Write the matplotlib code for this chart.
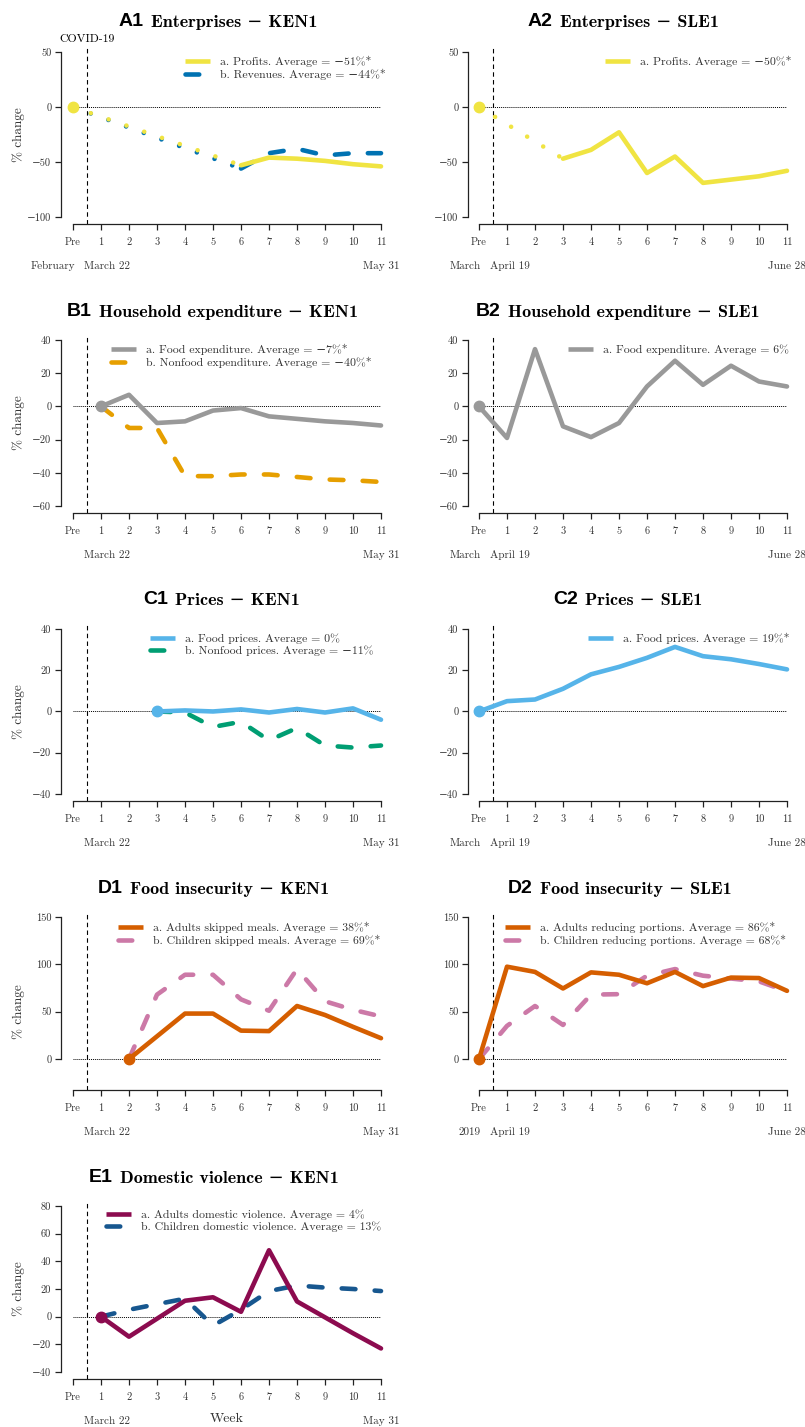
import numpy as np
import matplotlib.pyplot as plt
from matplotlib.lines import Line2D

plt.rcParams['font.family'] = ['cmr10', 'DejaVu Serif']
plt.rcParams['axes.unicode_minus'] = False

W, H = 805, 1427
MINUS = "\u2212"

weeks = ["Pre", "1", "2", "3", "4", "5", "6", "7", "8", "9", "10", "11"]

# colours
yellow = "#F0E442"
blue = "#0072B2"
grey = "#999999"
orange = "#E69F00"
skyblue = "#56B4E9"
green = "#009E73"
vermillion = "#D55E00"
pink = "#CC79A7"
maroon = "#8C0B4F"
navy = "#17578F"

N = None
# A1 Enterprises KEN1
ken_profits = [0, N, N, N, N, N, -53, -46, -47, -49, -52, -54]
ken_revenues = [0, N, N, N, N, N, -56, -42, -38, -44, -42, -42]
# A2 Enterprises SLE1
sle_profits = [0, N, N, -47, -39, -23, -60, -45, -69, -66, -63, -58]
# B1 Household expenditure KEN1
ken_food_exp = [N, 0, 7, -10, -9, -2.5, -1, -6, -7.5, -9, -10, -11.5]
ken_nonfood_exp = [N, 0, -13, -13, -42, -42, -41, -41, -42.5, -44, -44.5, -45.5]
# B2 Household expenditure SLE1
sle_food_exp = [0, -19, 34.5, -12, -18.5, -10, 12, 27.5, 13, 24.5, 15, 12]
# C1 Prices KEN1
ken_food_prices = [N, N, N, 0, 0.5, 0, 1, -0.5, 1.2, -0.5, 1.5, -4]
ken_nonfood_prices = [N, N, N, 0, -0.5, -7.5, -5, -14, -8, -16.5, -17.5, -16.5]
# C2 Prices SLE1
sle_food_prices = [0, 5, 5.8, 11, 18, 21.6, 26, 31.3, 26.8, 25.3, 23, 20.4]
# D1 Food insecurity KEN1
ken_adults_skipped = [N, N, 0, 24, 48, 48, 30, 29.5, 56, 46.5, 34, 22]
ken_children_skipped = [N, N, 0, 68, 89, 89, 63, 51, 95, 61, 52, 45]
# D2 Food insecurity SLE1
sle_adults_portions = [0, 97.5, 92, 74.5, 91.5, 89, 80, 92, 77, 86, 85.5, 72]
sle_children_portions = [0, 35, 56, 36, 68, 68.5, 88, 95, 88, 85, 82, 71.5]
# E1 Domestic violence KEN1
ken_adults_dv = [N, 0, -14.5, -1.5, 11.5, 14, 3.5, 48, 11, -0.5, -12, -23]
ken_children_dv = [N, 0, 5, 9, 13, -6.5, 5, 18.5, 22.5, 21, 20, 18.5]

labels = {
    "A1": ["a. Profits. Average = " + MINUS + "51%*", "b. Revenues. Average = " + MINUS + "44%*"],
    "A2": ["a. Profits. Average = " + MINUS + "50%*"],
    "B1": ["a. Food expenditure. Average = " + MINUS + "7%*", "b. Nonfood expenditure. Average = " + MINUS + "40%*"],
    "B2": ["a. Food expenditure. Average = 6%"],
    "C1": ["a. Food prices. Average = 0%", "b. Nonfood prices. Average = " + MINUS + "11%"],
    "C2": ["a. Food prices. Average = 19%*"],
    "D1": ["a. Adults skipped meals. Average = 38%*", "b. Children skipped meals. Average = 69%*"],
    "D2": ["a. Adults reducing portions. Average = 86%*", "b. Children reducing portions. Average = 68%*"],
    "E1": ["a. Adults domestic violence. Average = 4%", "b. Children domestic violence. Average = 13%"],
}

panels = [
    # key, title, row, col, series, colours, dates
    ("A1", "Enterprises " + MINUS + " KEN1", 0, 0, [ken_profits, ken_revenues], [yellow, blue], ["February", "March 22", "May 31"]),
    ("A2", "Enterprises " + MINUS + " SLE1", 0, 1, [sle_profits], [yellow], ["March", "April 19", "June 28"]),
    ("B1", "Household expenditure " + MINUS + " KEN1", 1, 0, [ken_food_exp, ken_nonfood_exp], [grey, orange], ["", "March 22", "May 31"]),
    ("B2", "Household expenditure " + MINUS + " SLE1", 1, 1, [sle_food_exp], [grey], ["March", "April 19", "June 28"]),
    ("C1", "Prices " + MINUS + " KEN1", 2, 0, [ken_food_prices, ken_nonfood_prices], [skyblue, green], ["", "March 22", "May 31"]),
    ("C2", "Prices " + MINUS + " SLE1", 2, 1, [sle_food_prices], [skyblue], ["March", "April 19", "June 28"]),
    ("D1", "Food insecurity " + MINUS + " KEN1", 3, 0, [ken_adults_skipped, ken_children_skipped], [vermillion, pink], ["", "March 22", "May 31"]),
    ("D2", "Food insecurity " + MINUS + " SLE1", 3, 1, [sle_adults_portions, sle_children_portions], [vermillion, pink], ["2019", "April 19", "June 28"]),
    ("E1", "Domestic violence " + MINUS + " KEN1", 4, 0, [ken_adults_dv, ken_children_dv], [maroon, navy], ["", "March 22", "May 31"]),
]

# row layout: top px, bottom px, ylim, spine bounds, ticks
rows = [
    (46, 224, (-106.4, 55.5), (-100, 50), [-100, -50, 0, 50]),
    (336, 513, (-64.2, 42.4), (-60, 40), [-60, -40, -20, 0, 20, 40]),
    (624, 801, (-43.4, 42.4), (-40, 40), [-40, -20, 0, 20, 40]),
    (913, 1090, (-32.7, 154.2), (0, 150), [0, 50, 100, 150]),
    (1202, 1379, (-45.1, 82.9), (-40, 80), [-40, -20, 0, 20, 40, 60, 80]),
]
cols = [(61, 381, -12 / 28), (468, 787, -11 / 28)]
title_left = {"A1": 119, "A2": 528, "B1": 67, "B2": 476, "C1": 143, "C2": 553,
              "D1": 98, "D2": 508, "E1": 89}
legend_pos = {"A1": (185, 56), "A2": (605, 56), "B1": (111, 344), "B2": (568, 344),
              "C1": (150, 633), "C2": (588, 633), "D1": (118, 922), "D2": (505, 922),
              "E1": (106, 1209)}

LW = 3.3
DASH = (0, (3.0, 4.2))
DOT = (0, (0.01, 4.1))

fig = plt.figure(figsize=(W / 100, H / 100), dpi=100)

for key, title, r, c, series, colours, dates in panels:
    top, bot, ylim, yb, yt = rows[r]
    left, right, xmin = cols[c]
    ax = fig.add_axes([left / W, 1 - bot / H, (right - left) / W, (bot - top) / H])
    ax.set_xlim(xmin, 11)
    ax.set_ylim(*ylim)
    for s in ["top", "right"]:
        ax.spines[s].set_visible(False)
    ax.spines["left"].set_bounds(*yb)
    ax.spines["bottom"].set_bounds(0, 11)
    for s in ["left", "bottom"]:
        ax.spines[s].set_linewidth(0.9)
        ax.spines[s].set_color("#222222")
    ax.set_xticks(range(12))
    ax.set_xticklabels(weeks, fontsize=7.5)
    ax.set_yticks(yt)
    ax.set_yticklabels([(MINUS + str(-v)) if v < 0 else str(v) for v in yt], fontsize=7.5)
    ax.tick_params(axis="x", length=4, width=0.9, pad=6, colors="#222222", labelcolor="#333333")
    ax.tick_params(axis="y", length=4, width=0.9, pad=3, colors="#222222", labelcolor="#333333")
    ax.patch.set_alpha(0)

    ax.axvline(0.5, color="black", lw=0.8, ls=(0, (4, 3)), zorder=1)
    ax.plot([0, 11], [0, 0], color="black", lw=0.7, ls=(0, (1, 1)), zorder=1)

    handles = []
    for i, (vals, col) in enumerate(zip(series, colours)):
        xs = [k for k, v in enumerate(vals) if v is not None]
        ys = [vals[k] for k in xs]
        style = "-" if i == 0 else DASH
        if len(xs) > 1 and xs[1] - xs[0] > 1:
            # gap after baseline: connect with dotted line
            ax.plot(xs[:2], ys[:2], color=col, lw=LW, ls=DOT, dash_capstyle="round",
                    zorder=3 - i, clip_on=False)
            xs, ys = xs[1:], ys[1:]
        ax.plot(xs, ys, color=col, lw=LW, ls=style, dash_capstyle="round",
                solid_capstyle="round", solid_joinstyle="round", zorder=3 - i, clip_on=False)
        if i == 0:
            x0 = [k for k, v in enumerate(vals) if v is not None][0]
            ax.plot([x0], [vals[x0]], "o", color=col, ms=7.5, zorder=4, clip_on=False)
        handles.append(Line2D([], [], color=col, lw=LW, ls=style, dash_capstyle="round",
                              solid_capstyle="butt"))

    lx, ly = legend_pos[key]
    fig.legend(handles, labels[key], loc="upper left", bbox_to_anchor=(lx / W, 1 - ly / H),
               frameon=False, fontsize=8.5, handlelength=2.1, handletextpad=0.9,
               labelspacing=0.12, borderpad=0, borderaxespad=0, labelcolor="#333333")

    # date labels under the axis
    dy = 1 - (bot + 42) / H
    xpx = lambda x: (left + (x - xmin) * 28) / W
    fig.text(xpx(0.07), dy, dates[0], ha="right", va="center", fontsize=8, color="#333333")
    fig.text(xpx(0.4), dy, dates[1], ha="left", va="center", fontsize=8, color="#333333")
    fig.text(xpx(11), dy, dates[2], ha="center", va="center", fontsize=8, color="#333333")

    if c == 0:
        fig.text(19 / W, 1 - (bot - 7 - (yb[1] - yb[0]) * (bot - top) / (ylim[1] - ylim[0]) / 2) / H,
                 "% change", rotation=90, ha="center", va="center", fontsize=9.5, color="#333333")

    ty = 1 - (top - 20) / H
    t = fig.text(title_left[key] / W, ty, key, ha="left", va="baseline",
                 fontfamily=["Liberation Sans"], fontweight="bold", fontsize=14)
    ax.annotate(title, xy=(1, 0), xycoords=t, xytext=(5, 0), textcoords="offset points",
                ha="left", va="bottom", fontfamily=["cmb10", "DejaVu Serif"], fontsize=13,
                annotation_clip=False)

    if key == "A1":
        fig.text(xpx(0.5), 1 - 39 / H, "COVID-19", ha="center", va="center", fontsize=8.5)
    if key == "E1":
        fig.text(xpx(5.5), 1 - (bot + 40) / H, "Week", ha="center", va="center", fontsize=10,
                 color="#333333")

fig.savefig("out.png", dpi=100)
